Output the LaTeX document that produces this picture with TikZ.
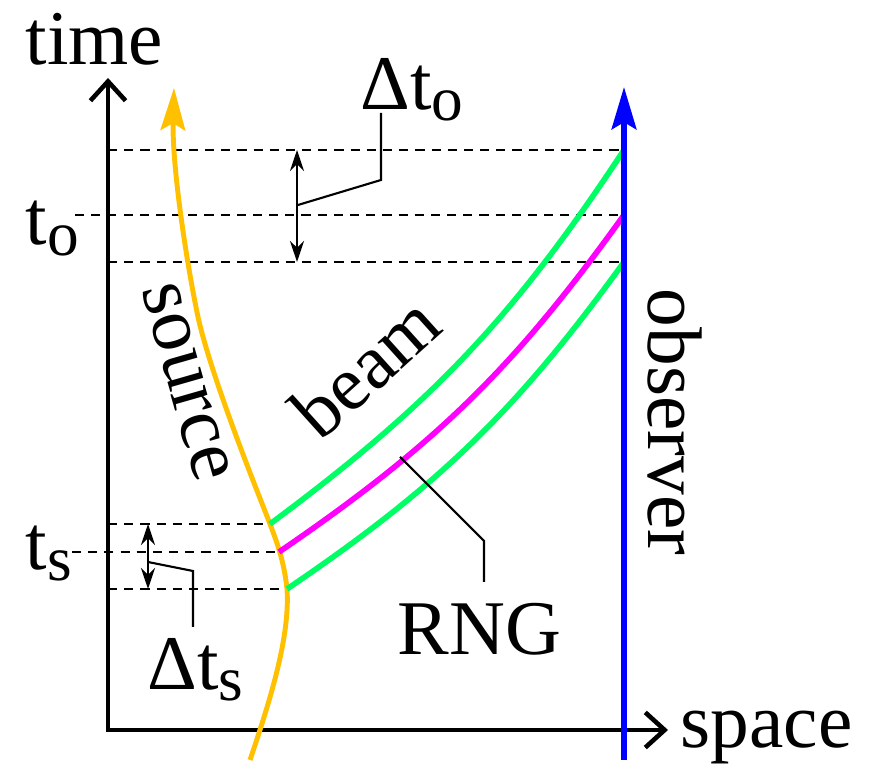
\documentclass[tikz,border=0pt]{standalone}
\usepackage{fontspec}
\setmainfont{Liberation Serif}
\usepackage{tikz}
\usetikzlibrary{arrows.meta, positioning}

\definecolor{srcorange}{RGB}{255,192,0}
\definecolor{beamgreen}{RGB}{0,255,100}
\definecolor{rngmagenta}{RGB}{255,0,255}
\definecolor{obsblue}{RGB}{0,0,255}

\newcommand{\lsub}[1]{\raisebox{-3pt}{\fontsize{18}{18}\selectfont #1}}

\begin{document}
\begin{tikzpicture}[
    x=0.01cm, y=0.01cm,
    lbl/.style={font=\fontsize{22}{26}\selectfont, inner sep=0pt},
    axis/.style={line width=0.9pt, {Straight Barb[length=5.5pt,width=10pt,line width=1.3pt]}-{Straight Barb[length=5.5pt,width=10pt,line width=1.3pt]}},
    guide/.style={line width=0.7pt, dash pattern=on 2.6pt off 2pt},
    source/.style={srcorange, line width=1.4pt, -{Stealth[length=12pt,width=7pt,inset=2pt]}},
    observer/.style={obsblue, line width=1.7pt, -{Stealth[length=12pt,width=7pt,inset=2pt]}},
    ray/.style={line width=1.6pt},
    dimarrow/.style={line width=0.75pt, {Stealth[length=6pt,width=4pt]}-{Stealth[length=6pt,width=4pt]}},
    leader/.style={line width=0.6pt}
]
\useasboundingbox (0,0) rectangle (877,765);

% Coordinates
\coordinate (O) at (108,35);
\coordinate (tTip) at (108,687);
\coordinate (xTip) at (668,35);
\coordinate (obsBot) at (624,5);
\coordinate (obsTop) at (624,678);
\coordinate (s1) at (270,241);
\coordinate (s2) at (279,213);
\coordinate (s3) at (287,176);
\coordinate (o1) at (624,615);
\coordinate (o2) at (624,550);
\coordinate (o3) at (624,503);

% Labels
\node (time) [lbl, anchor=base west] at (25,700) {time};
\node (space) [lbl, anchor=base west] at (680,17) {space};
\node (to) [lbl, anchor=base west] at (25,520) {t\lsub{o}};
\node (ts) [lbl, anchor=base west] at (25,195) {t\lsub{s}};
\node (dto) [lbl, anchor=base west] at (360,655) {Δt\lsub{o}};
\node (dts) [lbl, anchor=base west] at (147,75) {Δt\lsub{s}};
\node (rng) [lbl, anchor=base west] at (397,110) {RNG};
\node (obs) [lbl, anchor=base, rotate=-90] at (648,343) {observer};
\node (src) [lbl, anchor=base, rotate=-74] at (169,378) {source};
\node (beam) [lbl, anchor=base, rotate=42] at (383,379) {beam};

% Guide lines
\draw [guide] (O |- o1) -- (o1);
\draw [guide] (75,550) -- (o2);
\draw [guide] (O |- o3) -- (o3);
\draw [guide] (O |- s1) -- (s1);
\draw [guide] (72,213) -- (s2);
\draw [guide] (O |- s3) -- (s3);

% Axes
\draw [axis] (tTip) -- (O) -- (xTip);

% Source and beams
\draw [source] (250,5) .. controls (272,70) and (290,130) .. (s3)
    .. controls (284,205) and (276,225) .. (s1)
    .. controls (262,262) and (212,385) .. (198,448)
    .. controls (186,505) and (172,600) .. (174,677);
\draw [ray, beamgreen] (s1) to[bend right=10] (o1);
\draw [ray, rngmagenta] (s2) to[bend right=10] (o2);
\draw [ray, beamgreen] (s3) to[bend right=10] (o3);
\draw [observer] (obsBot) -- (obsTop);

% Intervals
\draw [dimarrow] (297,615) -- (297,503);
\draw [leader] (298,560) -- (381,585) -- (381,652);
\draw [dimarrow] (148,241) -- (148,176);
\draw [leader] (148,203) -- (193,194) -- (193,138);
\draw [leader] (400,308) -- (484,224) -- (484,183);

\end{tikzpicture}
\end{document}
